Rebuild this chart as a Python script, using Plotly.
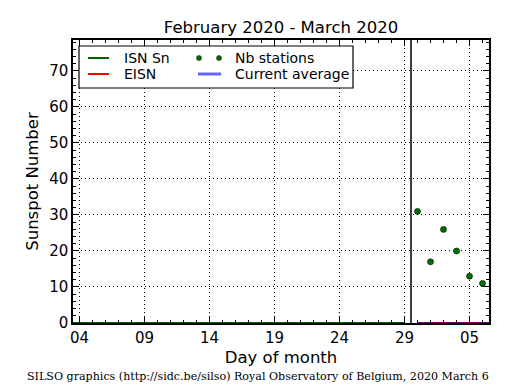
import plotly.graph_objects as go
import pandas as pd

# Data
isn_dates = pd.date_range("2020-02-01", "2020-02-29", freq="D")
isn_values = [0] * len(isn_dates)
eisn_dates = pd.date_range("2020-03-01", "2020-03-07", freq="D")
eisn_values = [0] * len(eisn_dates)
avg_values = [0] * len(eisn_dates)
nb_dates = ["2020-03-01", "2020-03-02", "2020-03-03", "2020-03-04", "2020-03-05", "2020-03-06"]
nb_values = [31, 17, 26, 20, 13, 11]
tick_dates = ["2020-02-04", "2020-02-09", "2020-02-14", "2020-02-19", "2020-02-24", "2020-02-29", "2020-03-05"]
tick_labels = ["04", "09", "14", "19", "24", "29", "05"]
month_boundary = "2020-02-29 12:00"

FONT = "DejaVu Sans"

fig = go.Figure()
fig.add_trace(go.Scatter(x=isn_dates, y=isn_values, mode="lines",
                         line=dict(color="#006400", width=2), showlegend=False))
fig.add_trace(go.Scatter(x=eisn_dates, y=eisn_values, mode="lines",
                         line=dict(color="red", width=2), showlegend=False))
fig.add_trace(go.Scatter(x=eisn_dates, y=avg_values, mode="lines",
                         line=dict(color="blue", width=2), opacity=0.5, showlegend=False))
fig.add_trace(go.Scatter(x=nb_dates, y=nb_values, mode="markers",
                         marker=dict(color="#007000", size=6, line=dict(color="black", width=0.6)),
                         showlegend=False))

fig.add_shape(type="line", xref="x", yref="paper", x0=month_boundary, x1=month_boundary,
              y0=0, y1=1, line=dict(color="black", width=1.5))

# Manual legend (2 columns, matplotlib style)
W, H = 515, 390
L, R, T, B = 73, 26, 40, 67
pw, ph = W - L - R, H - T - B

def px(x):
    return (x - L) / pw

def py(y):
    return 1 - (y - T) / ph

fig.add_shape(type="rect", xref="paper", yref="paper",
              x0=px(79), x1=px(353), y0=py(88), y1=py(46),
              line=dict(color="black", width=1.2), fillcolor="white", layer="above")
row1, row2 = 58, 74
fig.add_shape(type="line", xref="paper", yref="paper", x0=px(88), x1=px(109),
              y0=py(row1), y1=py(row1), line=dict(color="#006400", width=2), layer="above")
fig.add_shape(type="line", xref="paper", yref="paper", x0=px(88), x1=px(109),
              y0=py(row2), y1=py(row2), line=dict(color="red", width=2), layer="above")
fig.add_shape(type="line", xref="paper", yref="paper", x0=px(198), x1=px(221),
              y0=py(row2), y1=py(row2), line=dict(color="rgba(100,100,255,1)", width=3), layer="above")
for cx in (199, 219):
    fig.add_shape(type="circle", xref="paper", yref="paper",
                  x0=px(cx - 2.5), x1=px(cx + 2.5), y0=py(row1 + 2.5), y1=py(row1 - 2.5),
                  line=dict(color="black", width=0.5), fillcolor="#007000", layer="above")
for txt, x, y in [("ISN Sn", 122, row1), ("EISN", 122, row2),
                  ("Nb stations", 233, row1), ("Current average", 233, row2)]:
    fig.add_annotation(text=txt, xref="paper", yref="paper", x=px(x), y=py(y),
                       xanchor="left", yanchor="middle", showarrow=False,
                       font=dict(family=FONT, size=14, color="black"))

fig.add_annotation(text="SILSO graphics (http://sidc.be/silso) Royal Observatory of Belgium, 2020 March 6",
                   xref="paper", yref="paper", x=px(258), y=py(376), xanchor="center", yanchor="middle",
                   showarrow=False, font=dict(family="DejaVu Serif", size=11.1, color="black"))

fig.update_layout(
    width=W, height=H,
    margin=dict(l=L, r=R, t=T, b=B),
    paper_bgcolor="white", plot_bgcolor="white",
    title=dict(text="February 2020 - March 2020", x=(L + pw / 2) / W, xanchor="center",
               y=1 - 27 / H, yanchor="middle", font=dict(family=FONT, size=16.5, color="black")),
    font=dict(family=FONT, color="black"),
)

fig.update_xaxes(
    type="date", range=["2020-02-03 12:00", "2020-03-06 12:00"],
    tickvals=tick_dates, ticktext=tick_labels,
    ticks="inside", ticklen=6, tickwidth=1, tickcolor="black",
    showline=True, linecolor="black", linewidth=1.5, mirror="allticks",
    showgrid=True, gridcolor="black", griddash="1px,3px", gridwidth=1,
    tickfont=dict(family=FONT, size=15, color="black"),
    title=dict(text="Day of month", font=dict(family=FONT, size=16.5, color="black"), standoff=6),
    minor=dict(dtick=86400000, ticks="inside", ticklen=3, tickcolor="black", showgrid=False),
    zeroline=False,
)
fig.update_yaxes(
    range=[0, 78.6], dtick=10, tick0=0,
    ticks="inside", ticklen=6, tickwidth=1, tickcolor="black",
    showline=True, linecolor="black", linewidth=1.5, mirror="allticks",
    showgrid=True, gridcolor="black", griddash="1px,3px", gridwidth=1,
    tickfont=dict(family=FONT, size=15, color="black"),
    title=dict(text="Sunspot Number", font=dict(family=FONT, size=16.5, color="black"), standoff=6),
    minor=dict(dtick=2, ticks="inside", ticklen=3, tickcolor="black", showgrid=False),
    zeroline=False,
)

fig.write_html("out.html", config={"displayModeBar": False},
               post_script="document.body.style.margin='0';")
